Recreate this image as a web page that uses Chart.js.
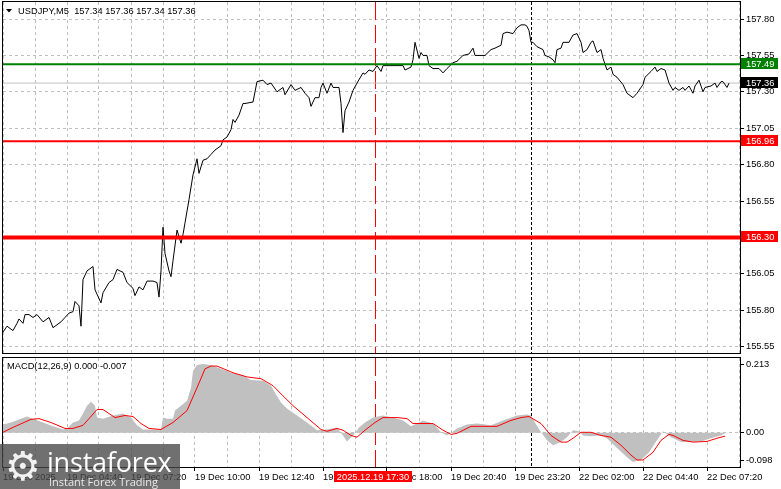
<!DOCTYPE html>
<html>
<head>
<meta charset="utf-8">
<script src="https://cdn.jsdelivr.net/npm/chart.js@4.4.1/dist/chart.umd.min.js"></script>
<style>
  body { margin: 0; background: #fff; width: 781px; height: 489px; overflow: hidden; position: relative; }
  canvas { position: absolute; left: 0; }
  #main { top: 0; }
  #macd { top: 356px; }
  #logo { position: absolute; left: 0; top: 444px; width: 180px; height: 45px; background: rgba(72,72,72,0.78); color: #fff; font-family: 'Open Sans', sans-serif; }
  #logo .gear { position: absolute; left: 5px; top: 1px; font-size: 40px; line-height: 42px; font-family: 'DejaVu Sans', sans-serif; color: #f2f2f2; }
  #logo .big { position: absolute; left: 47px; top: 3px; font-size: 27px; line-height: 30px; letter-spacing: -0.2px; }
  #logo .small { position: absolute; left: 49px; top: 31px; font-size: 11px; line-height: 13px; color: #e8e8e8; }
</style>
</head>
<body>
<canvas id="main" width="781" height="356"></canvas>
<canvas id="macd" width="781" height="133"></canvas>
<div id="logo"><div class="gear">⚙</div><div class="big">instaforex</div><div class="small">Instant Forex Trading</div></div>
<script>
// USDJPY M5, one bar = 5 minutes, bar 0 = first bar on the left
const priceBars = [
  0, 2, 5, 7, 8, 10, 11, 13, 15, 17,
  20, 23, 25, 27, 29, 31, 33, 35, 36, 38,
  39, 40, 42, 45, 46, 49, 50, 53, 55, 57,
  60, 62, 65, 66, 68, 70, 72, 75, 77, 78,
  79, 80, 81, 83, 84, 85, 87, 89, 90, 91,
  93, 95, 97, 98, 100, 102, 104, 106, 109, 110,
  112, 114, 115, 116, 118, 120, 121, 125, 126, 127,
  130, 132, 134, 137, 140, 141, 144, 146, 149, 151,
  153, 154, 156, 158, 159, 160, 162, 164, 165, 168,
  169, 170, 171, 173, 175, 177, 180, 181, 183, 185,
  187, 189, 190, 195, 200, 201, 204, 205, 206, 208,
  209, 210, 212, 213, 215, 218, 220, 222, 225, 227,
  230, 233, 235, 236, 239, 241, 244, 246, 249, 250,
  252, 255, 257, 259, 261, 262, 263, 264, 265, 267,
  270, 271, 273, 275, 276, 277, 279, 280, 283, 285,
  287, 289, 290, 292, 294, 295, 297, 299, 300, 302,
  304, 305, 307, 310, 312, 315, 317, 320, 321, 324,
  326, 327, 329, 331, 333, 335, 336, 338, 340, 341,
  343, 345, 346, 348, 350, 351, 354, 356, 357, 359,
  360, 362, 363
];
const closes = [
  155.65, 155.69, 155.66, 155.71, 155.74, 155.71, 155.77, 155.77, 155.75, 155.77,
  155.72, 155.75, 155.68, 155.70, 155.72, 155.75, 155.78, 155.79, 155.86, 155.83,
  155.69, 156.01, 156.07, 156.10, 155.94, 155.85, 155.92, 155.99, 156.01, 156.08,
  156.06, 155.99, 155.95, 155.90, 155.96, 155.94, 156.00, 156.00, 155.99, 155.89,
  156.07, 156.37, 156.19, 156.07, 156.03, 156.14, 156.35, 156.26, 156.32, 156.40,
  156.56, 156.73, 156.84, 156.74, 156.83, 156.84, 156.87, 156.90, 156.93, 156.97,
  156.99, 157.04, 157.11, 157.09, 157.14, 157.22, 157.22, 157.23, 157.30, 157.37,
  157.38, 157.35, 157.36, 157.30, 157.33, 157.28, 157.35, 157.31, 157.33, 157.29,
  157.26, 157.20, 157.26, 157.26, 157.33, 157.36, 157.29, 157.36, 157.33, 157.33,
  157.22, 157.02, 157.17, 157.23, 157.31, 157.36, 157.43, 157.42, 157.45, 157.44,
  157.48, 157.44, 157.48, 157.48, 157.48, 157.45, 157.47, 157.52, 157.64, 157.53,
  157.57, 157.55, 157.55, 157.48, 157.46, 157.46, 157.43, 157.46, 157.50, 157.51,
  157.55, 157.56, 157.60, 157.55, 157.55, 157.55, 157.59, 157.60, 157.62, 157.70,
  157.71, 157.70, 157.74, 157.76, 157.76, 157.75, 157.72, 157.64, 157.64, 157.61,
  157.59, 157.55, 157.54, 157.52, 157.50, 157.59, 157.60, 157.64, 157.64, 157.69,
  157.70, 157.64, 157.57, 157.59, 157.64, 157.65, 157.57, 157.59, 157.53, 157.45,
  157.47, 157.42, 157.40, 157.35, 157.29, 157.26, 157.29, 157.35, 157.40, 157.44,
  157.47, 157.44, 157.46, 157.45, 157.36, 157.31, 157.33, 157.31, 157.33, 157.31,
  157.34, 157.29, 157.34, 157.38, 157.30, 157.33, 157.34, 157.36, 157.33, 157.37,
  157.37, 157.33, 157.36
];

// MACD(12,26,9): histogram (main) and signal
const histBars = [
  0, 4, 9, 12, 15, 20, 25, 30, 32, 35,
  38, 40, 42, 44, 46, 47, 50, 55, 60, 64,
  67, 70, 75, 79, 80, 82, 85, 86, 89, 92,
  94, 95, 97, 100, 104, 109, 114, 119, 124, 130,
  134, 136, 139, 142, 147, 152, 157, 162, 167, 170,
  172, 175, 178, 181, 185, 190, 195, 200, 204, 207,
  210, 215, 219, 222, 227, 232, 237, 244, 250, 257,
  262, 264, 266, 269, 272, 275, 279, 282, 285, 288,
  290, 294, 299, 302, 307, 312, 315, 319, 323, 327,
  330, 334, 339, 344, 349, 354, 359, 361
];
const histValues = [
  0.023, 0.029, 0.040, 0.046, 0.040, 0.029, 0.018, 0.009, 0.012, 0.029,
  0.035, 0.055, 0.077, 0.088, 0.077, 0.043, 0.040, 0.049, 0.055, 0.043,
  0.021, 0.009, 0.009, 0.009, 0.043, 0.040, 0.040, 0.063, 0.077, 0.091,
  0.128, 0.176, 0.193, 0.196, 0.193, 0.182, 0.171, 0.165, 0.150, 0.148,
  0.134, 0.114, 0.086, 0.069, 0.049, 0.029, 0.007, 0.009, 0.015, -0.008,
  -0.025, -0.008, 0.015, 0.029, 0.043, 0.049, 0.043, 0.035, 0.018, 0.026,
  0.035, 0.026, 0.001, -0.008, 0.012, 0.023, 0.026, 0.021, 0.035, 0.049,
  0.052, 0.049, 0.029, 0.001, -0.022, -0.036, -0.027, -0.013, 0.007, 0.004,
  -0.008, -0.010, -0.008, -0.016, -0.044, -0.070, -0.084, -0.078, -0.056, -0.022,
  0.004, -0.013, -0.027, -0.027, -0.025, -0.016, -0.008, -0.002
];
const signalBars = [
  0, 5, 14, 18, 24, 31, 35, 40, 43, 47,
  50, 56, 61, 65, 69, 73, 79, 85, 92, 97,
  101, 104, 107, 115, 122, 129, 135, 140, 145, 152,
  159, 162, 167, 170, 174, 177, 181, 186, 190, 197,
  202, 205, 210, 215, 220, 224, 227, 234, 240, 247,
  254, 259, 263, 269, 274, 279, 282, 285, 289, 294,
  299, 304, 309, 314, 317, 320, 325, 329, 333, 335,
  340, 345, 352, 357, 361
];
const signalValues = [
  0.001, 0.015, 0.038, 0.040, 0.029, 0.012, 0.012, 0.021, 0.040, 0.066,
  0.066, 0.043, 0.049, 0.046, 0.026, 0.012, 0.009, 0.029, 0.063, 0.128,
  0.182, 0.190, 0.190, 0.171, 0.159, 0.154, 0.134, 0.105, 0.077, 0.043,
  0.009, 0.004, 0.012, 0.007, -0.008, -0.013, 0.007, 0.029, 0.043, 0.043,
  0.040, 0.026, 0.026, 0.026, 0.007, -0.005, -0.002, 0.018, 0.018, 0.018,
  0.035, 0.043, 0.046, 0.026, -0.008, -0.027, -0.027, -0.016, 0.001, 0.001,
  -0.008, -0.013, -0.036, -0.064, -0.078, -0.078, -0.056, -0.022, -0.005, -0.008,
  -0.022, -0.027, -0.025, -0.016, -0.010
];

// axis labels
const timeLabels = ['19 Dec 2025', '19 Dec 04:40', '19 Dec 07:20', '19 Dec 10:00', '19 Dec 12:40', '19 Dec 15:20',
  '19 Dec 18:00', '19 Dec 20:40', '19 Dec 23:20', '22 Dec 02:00', '22 Dec 04:40', '22 Dec 07:20'];
const priceTicks = [155.55, 155.80, 156.05, 156.30, 156.55, 156.80, 157.05, 157.30, 157.55, 157.80];
const macdTickLabels = ['0.213', '0.00', '-0.098'];

// horizontal levels and markers
const resistance = 157.49;
const supports = [156.96, 156.30];
const lastPrice = 157.36;
const cursorBar = 186;      // 2025.12.19 17:30
const cursorLabel = '2025.12.19 17:30';
const separatorBar = 264;   // 22 Dec 00:00
const titleText = 'USDJPY,M5  157.34 157.36 157.34 157.36';
const macdTitle = 'MACD(12,26,9) 0.000 -0.007';

const X_MAX = 368.5;
const GRID_STEP = 16;
const FONT = "9.3px 'Liberation Sans', Arial, sans-serif";

Chart.defaults.font.family = "'Liberation Sans', Arial, sans-serif";
Chart.defaults.font.size = 9.3;
Chart.defaults.color = '#000';

function xTicks(scale) {
  const t = [];
  for (let b = 0; b <= X_MAX; b += GRID_STEP) t.push({ value: b });
  scale.ticks = t;
}

// the chart area is fixed by layout padding, labels must not push it in
function noPad(s) {
  s.paddingTop = 0; s.paddingBottom = 0; s.paddingLeft = 0; s.paddingRight = 0;
}

function pts(xs, ys) {
  return xs.map((x, i) => ({ x, y: ys[i] }));
}

function levelLine(v, color, width, order) {
  return {
    data: [{ x: 0, y: v }, { x: X_MAX, y: v }],
    borderColor: color, borderWidth: width, pointRadius: 0, order
  };
}

// frame + vertical markers, shared by both panels
const panelPlugin = {
  id: 'panel',
  beforeDatasetsDraw(chart) {
    const { ctx, chartArea: a, scales: { x } } = chart;
    ctx.save();
    ctx.lineWidth = 1;
    let px = Math.round(x.getPixelForValue(cursorBar)) + 0.5;
    ctx.strokeStyle = '#ff0000';
    ctx.setLineDash([18, 5]);
    ctx.beginPath(); ctx.moveTo(px, a.top); ctx.lineTo(px, a.bottom); ctx.stroke();
    px = Math.round(x.getPixelForValue(separatorBar)) + 0.5;
    ctx.strokeStyle = '#000';
    ctx.setLineDash([3, 2]);
    ctx.beginPath(); ctx.moveTo(px, a.top); ctx.lineTo(px, a.bottom); ctx.stroke();
    ctx.restore();
  },
  afterDraw(chart) {
    const { ctx, chartArea: a } = chart;
    ctx.save();
    ctx.strokeStyle = '#000';
    ctx.lineWidth = 1;
    ctx.strokeRect(a.left - 0.5, a.top - 0.5, a.right - a.left + 1, a.bottom - a.top + 1);
    ctx.restore();
  }
};

function tag(ctx, x, y, w, h, bg, text, align) {
  ctx.fillStyle = bg;
  ctx.fillRect(x, y, w, h);
  ctx.fillStyle = '#fff';
  ctx.textBaseline = 'middle';
  ctx.textAlign = align;
  ctx.fillText(text, align === 'center' ? x + w / 2 : x + 5, y + h / 2 + 0.5);
}

const mainOverlay = {
  id: 'mainOverlay',
  afterDraw(chart) {
    const { ctx, scales: { y } } = chart;
    ctx.save();
    ctx.font = FONT;
    const tags = [
      [resistance, '#008000'],
      [lastPrice, '#000000'],
      [supports[0], '#ff0000'],
      [supports[1], '#ff0000']
    ];
    tags.forEach(([v, c]) => {
      const py = Math.round(y.getPixelForValue(v));
      tag(ctx, 741, py - 6, 37, 11, c, v.toFixed(2), 'left');
    });
    // title
    ctx.fillStyle = '#000';
    ctx.beginPath();
    ctx.moveTo(6, 9); ctx.lineTo(12, 9); ctx.lineTo(9, 12.5); ctx.closePath(); ctx.fill();
    ctx.textAlign = 'left';
    ctx.textBaseline = 'middle';
    ctx.fillText(titleText, 18, 11);
    ctx.restore();
  }
};

const macdOverlay = {
  id: 'macdOverlay',
  afterDraw(chart) {
    const { ctx, chartArea: a, scales: { x } } = chart;
    ctx.save();
    ctx.font = FONT;
    ctx.fillStyle = '#000';
    ctx.textAlign = 'left';
    ctx.textBaseline = 'middle';
    ctx.fillText(macdTitle, 7, 10);
    const px = x.getPixelForValue(cursorBar);
    tag(ctx, Math.round(px) - 41, a.bottom + 4, 78, 11, '#ff0000', cursorLabel, 'center');
    ctx.restore();
  }
};

new Chart(document.getElementById('main'), {
  type: 'line',
  data: {
    datasets: [
      { data: pts(priceBars, closes), borderColor: '#000', borderWidth: 1, pointRadius: 0, tension: 0, order: 1 },
      levelLine(lastPrice, '#c0c0c0', 1, 2),
      levelLine(resistance, '#008000', 2, 0),
      levelLine(supports[0], '#ff0000', 2, 0),
      levelLine(supports[1], '#ff0000', 4, 0)
    ]
  },
  options: {
    responsive: false,
    animation: false,
    events: [],
    layout: { padding: { left: 3, top: 2, right: 0, bottom: 3 } },
    plugins: { legend: { display: false }, tooltip: { enabled: false } },
    scales: {
      x: {
        type: 'linear', min: 0, max: X_MAX,
        afterBuildTicks: xTicks,
        afterFit: s => { s.height = 0; noPad(s); },
        ticks: { display: false },
        grid: { color: '#c0c0c0', drawTicks: false },
        border: { display: false, dash: [3, 3] }
      },
      y: {
        position: 'right', min: 155.506, max: 157.917,
        afterBuildTicks: s => { s.ticks = priceTicks.map(v => ({ value: v })); },
        afterFit: s => { s.width = 41; noPad(s); },
        ticks: { padding: 2, callback: v => v.toFixed(2) },
        grid: { color: '#c0c0c0', tickColor: '#000', tickLength: 4 },
        border: { display: false, dash: [3, 3] }
      }
    }
  },
  plugins: [panelPlugin, mainOverlay]
});

new Chart(document.getElementById('macd'), {
  type: 'line',
  data: {
    datasets: [
      { data: pts(signalBars, signalValues), borderColor: '#ff0000', borderWidth: 1, pointRadius: 0, tension: 0 },
      { data: pts(histBars, histValues), borderWidth: 0, borderColor: 'rgba(0,0,0,0)', backgroundColor: '#c0c0c0', fill: 'origin', pointRadius: 0, tension: 0 }
    ]
  },
  options: {
    responsive: false,
    animation: false,
    events: [],
    layout: { padding: { left: 3, top: 2, right: 0, bottom: 0 } },
    plugins: { legend: { display: false }, tooltip: { enabled: false } },
    scales: {
      x: {
        type: 'linear', min: 0, max: X_MAX,
        afterBuildTicks: xTicks,
        afterFit: s => { s.height = 22; noPad(s); },
        ticks: {
          autoSkip: false, maxRotation: 0, align: 'start', padding: 1,
          callback: (v, i) => (i % 2 === 0 ? timeLabels[i / 2] : '')
        },
        grid: {
          color: '#c0c0c0', tickLength: 4,
          tickColor: c => (c.index % 2 === 0 ? '#000' : 'rgba(0,0,0,0)')
        },
        border: { display: false, dash: [3, 3] }
      },
      y: {
        position: 'right', min: -0.098, max: 0.213,
        afterBuildTicks: s => {
          const inset = (s.max - s.min) * 6.5 / 109;
          s.ticks = [{ value: s.max - inset }, { value: 0 }, { value: s.min + inset }];
        },
        afterFit: s => { s.width = 41; noPad(s); },
        ticks: { padding: 2, callback: (v, i) => macdTickLabels[i] },
        grid: {
          color: c => (c.index === 1 ? '#c0c0c0' : 'rgba(0,0,0,0)'),
          tickColor: '#000', tickLength: 4
        },
        border: { display: false, dash: [3, 3] }
      }
    }
  },
  plugins: [panelPlugin, macdOverlay]
});
</script>
</body>
</html>
